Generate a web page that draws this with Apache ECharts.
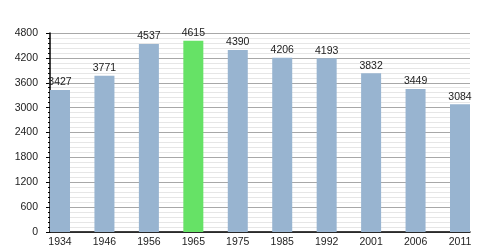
<!DOCTYPE html>
<html><head><meta charset="utf-8">
<script src="https://cdn.jsdelivr.net/npm/echarts@6/dist/echarts.min.js"></script>
<style>html,body{margin:0;padding:0;background:#fff}#c{width:500px;height:250px}</style>
</head><body><div id="c"></div>
<script>
const years = ['1934','1946','1956','1965','1975','1985','1992','2001','2006','2011'];
const population = [3427, 3771, 4537, 4615, 4390, 4206, 4193, 3832, 3449, 3084];
const highlightYear = '1965';
const yTicks = [0, 600, 1200, 1800, 2400, 3000, 3600, 4200, 4800];

const font = 'Liberation Sans, Arial, sans-serif';
const chart = echarts.init(document.getElementById('c'), null, {renderer: 'canvas'});
chart.setOption({
  animation: false,
  backgroundColor: '#fff',
  grid: [
    {left: 50, right: 30, top: 33, bottom: 18, outerBoundsMode: 'none'},
    {left: 60, right: 40, top: 33, bottom: 18, outerBoundsMode: 'none'}
  ],
  xAxis: [
    {gridIndex: 0, type: 'value', min: 0, max: 1, axisLine: {show: true, onZero: false, lineStyle: {color: '#000', width: 1.5}},
     axisTick: {show: false}, axisLabel: {show: false}, splitLine: {show: false}},
    {gridIndex: 1, type: 'category', data: years, boundaryGap: false,
     axisLine: {show: false}, axisTick: {show: false},
     axisLabel: {color: '#222', fontSize: 10.5, fontFamily: font, margin: 5, interval: 0, overflow: 'none',
                 hideOverlap: false, alignMinLabel: 'center', alignMaxLabel: 'center', showMinLabel: true, showMaxLabel: true},
     splitLine: {show: false}}
  ],
  yAxis: [
    {gridIndex: 0, type: 'value', min: yTicks[0], max: yTicks[yTicks.length-1], interval: 600,
     axisLine: {show: true, lineStyle: {color: '#000', width: 1.5}},
     axisTick: {show: true, length: 4, lineStyle: {color: '#000'}},
     minorTick: {show: true, splitNumber: 5, length: 2, lineStyle: {color: '#000'}},
     axisLabel: {color: '#222', fontSize: 10.5, fontFamily: font, margin: 12, formatter: v => String(v)},
     splitLine: {show: true, lineStyle: {color: '#a8a8a8', width: 1}},
     minorSplitLine: {show: true, lineStyle: {color: '#e6e6e6', width: 1}}},
    {gridIndex: 1, type: 'value', min: 0, max: 4800, show: false}
  ],
  series: [{
    type: 'bar', xAxisIndex: 1, yAxisIndex: 1, barWidth: 20, clip: false,
    data: population.map((v, i) => ({value: v, itemStyle: {color: years[i] === highlightYear ? '#66e266' : '#98b4d0'}})),
    label: {show: true, position: 'top', distance: 2, color: '#222', fontSize: 10.5, fontFamily: font}
  }]
});
</script></body></html>
